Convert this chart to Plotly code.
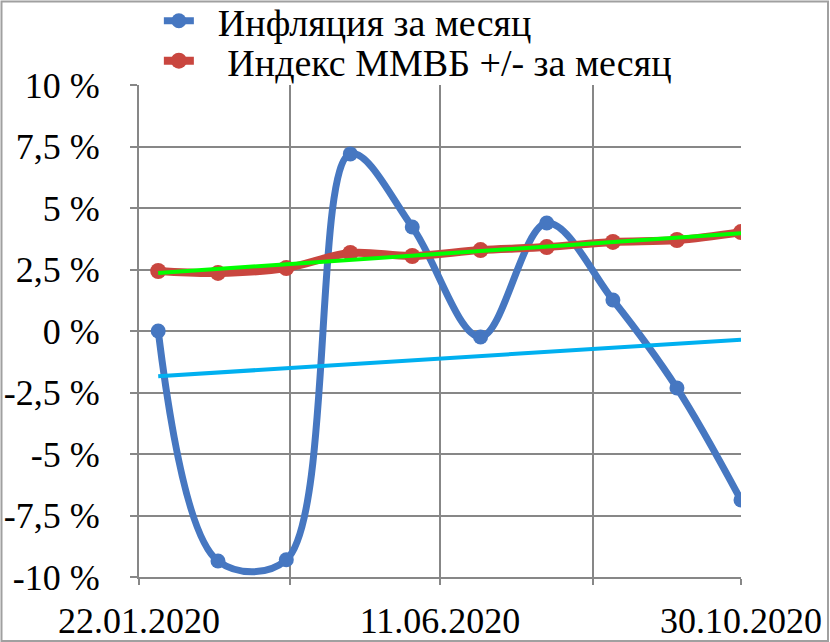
import numpy as np
import plotly.graph_objects as go

dates = ["2020-01-31", "2020-02-28", "2020-03-31", "2020-04-30", "2020-05-29",
         "2020-06-30", "2020-07-31", "2020-08-31", "2020-09-30", "2020-10-30"]
inflation = [0.0, -9.35, -9.3, 7.2, 4.23, -0.24, 4.39, 1.26, -2.32, -6.87]
moex = [2.44, 2.36, 2.56, 3.17, 3.05, 3.29, 3.41, 3.62, 3.70, 4.02]

x_tickvals = ["2020-01-22", "2020-04-01 12:00", "2020-06-11", "2020-08-21 12:00", "2020-10-30"]
x_ticktext = ["22.01.2020", "", "11.06.2020", "", "30.10.2020"]
y_tickvals = [10, 7.5, 5, 2.5, 0, -2.5, -5, -7.5, -10]
y_ticktext = ["10 %", "7,5 %", "5 %", "2,5 %", "0 %", "-2,5 %", "-5 %", "-7,5 %", "-10 %"]

name_infl = "\u00a0\u00a0Инфляция за месяц"
name_moex = "\u00a0\u00a0\u00a0Индекс ММВБ +/- за месяц"

# linear trends
d = np.array([np.datetime64(s) for s in dates])
t = (d - d[0]).astype(float)
trend_infl = np.polyval(np.polyfit(t, inflation, 1), t)
trend_moex = np.polyval(np.polyfit(t, moex, 1), t)

BLUE = "#4677C1"
RED = "#C9463F"
FONT = "'Liberation Serif', 'DejaVu Serif', serif"

fig = go.Figure()
fig.add_trace(go.Scatter(x=dates, y=inflation, name=name_infl, mode="lines+markers",
                         legend="legend",
                         line=dict(color=BLUE, width=7, shape="spline", smoothing=1.0),
                         marker=dict(size=15, color=BLUE)))
fig.add_trace(go.Scatter(x=dates, y=moex, name=name_moex, mode="lines+markers",
                         legend="legend2",
                         line=dict(color=RED, width=8, shape="spline", smoothing=1.0),
                         marker=dict(size=16, color=RED)))
fig.add_trace(go.Scatter(x=[dates[0], dates[-1]], y=[trend_infl[0], trend_infl[-1]],
                         mode="lines", showlegend=False,
                         line=dict(color="#00B0F0", width=4)))
fig.add_trace(go.Scatter(x=[dates[0], dates[-1]], y=[trend_moex[0], trend_moex[-1]],
                         mode="lines", showlegend=False,
                         line=dict(color="#00FF00", width=4)))

leg_common = dict(xanchor="left", yanchor="middle", bgcolor="rgba(0,0,0,0)",
                  font=dict(family=FONT, size=38), itemwidth=30)

fig.update_layout(
    width=830, height=642,
    margin=dict(l=139, r=89, t=85, b=65, autoexpand=False),
    paper_bgcolor="white", plot_bgcolor="white",
    font=dict(family=FONT, size=36, color="black"),
    legend=dict(x=0.033, y=(577 - 21) / 492, **leg_common),
    legend2=dict(x=0.033, y=(577 - 61) / 492, **leg_common),
    xaxis=dict(type="date", range=["2020-01-22", "2020-10-30"],
               tickvals=x_tickvals, ticktext=x_ticktext,
               showgrid=True, gridcolor="#878787", gridwidth=2,
               showline=True, linecolor="#878787", linewidth=2,
               ticks="outside", ticklen=6, tickcolor="#878787", tickwidth=2,
               ticklabelstandoff=5, zeroline=False, automargin=False,
               tickfont=dict(family=FONT, size=36)),
    yaxis=dict(range=[-10, 10], tickvals=y_tickvals, ticktext=y_ticktext,
               showgrid=True, gridcolor="#878787", gridwidth=2,
               showline=True, linecolor="#878787", linewidth=2,
               ticks="outside", ticklen=7, tickcolor="#878787", tickwidth=2,
               ticklabelstandoff=23, zeroline=False, automargin=False,
               tickfont=dict(family=FONT, size=36)),
    shapes=[dict(type="rect", xref="paper", yref="paper",
                 x0=(1.5 - 139) / 602, x1=(828 - 139) / 602,
                 y0=(577 - 641) / 492, y1=(577 - 1.5) / 492,
                 line=dict(color="#A0A0A0", width=2), layer="below")],
)

fig.write_html("out.html", config={"displayModeBar": False},
               post_script="document.body.style.margin='0px';")
